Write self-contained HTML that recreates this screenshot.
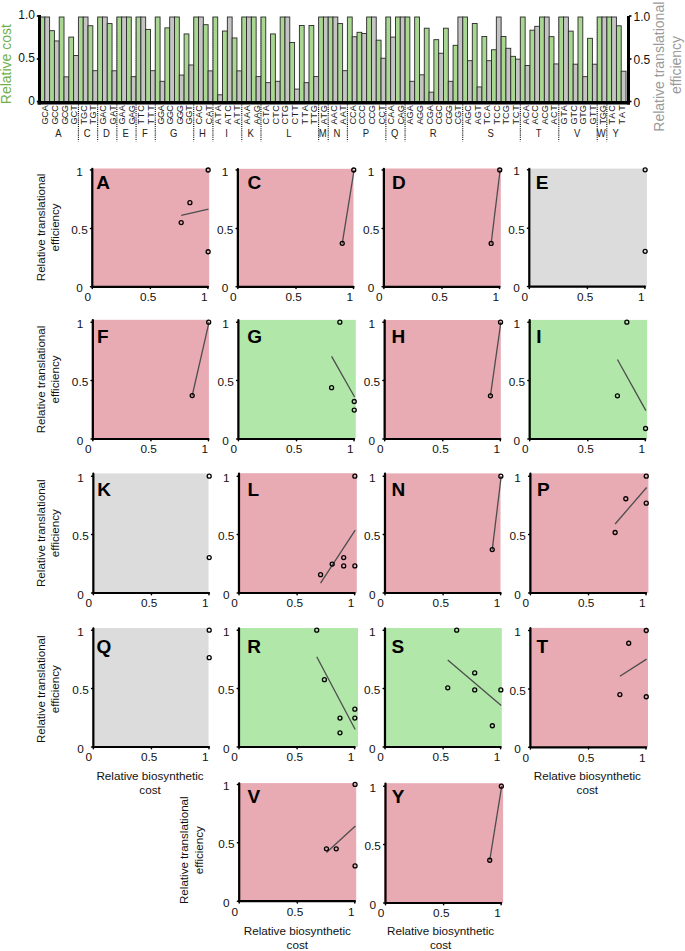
<!DOCTYPE html>
<html><head><meta charset="utf-8"><style>
html,body{margin:0;padding:0;background:#fff;}
body{width:685px;height:951px;overflow:hidden;font-family:"Liberation Sans",sans-serif;}
svg{display:block;}
</style></head><body>
<svg width="685" height="951" viewBox="0 0 685 951">
<rect x="40.00" y="17.00" width="4.80" height="85.50" fill="#a9d690" stroke="#2a2a2a" stroke-width="0.9"/>
<rect x="44.80" y="17.00" width="4.80" height="85.50" fill="#c4c4c4" stroke="#2a2a2a" stroke-width="0.9"/>
<rect x="49.61" y="30.68" width="4.80" height="71.82" fill="#a9d690" stroke="#2a2a2a" stroke-width="0.9"/>
<rect x="54.41" y="40.94" width="4.80" height="61.56" fill="#c4c4c4" stroke="#2a2a2a" stroke-width="0.9"/>
<rect x="59.21" y="17.00" width="4.80" height="85.50" fill="#a9d690" stroke="#2a2a2a" stroke-width="0.9"/>
<rect x="64.02" y="76.85" width="4.80" height="25.65" fill="#c4c4c4" stroke="#2a2a2a" stroke-width="0.9"/>
<rect x="68.82" y="37.09" width="4.80" height="65.41" fill="#a9d690" stroke="#2a2a2a" stroke-width="0.9"/>
<rect x="73.62" y="55.47" width="4.80" height="47.03" fill="#c4c4c4" stroke="#2a2a2a" stroke-width="0.9"/>
<rect x="78.43" y="17.00" width="4.80" height="85.50" fill="#a9d690" stroke="#2a2a2a" stroke-width="0.9"/>
<rect x="83.23" y="17.00" width="4.80" height="85.50" fill="#c4c4c4" stroke="#2a2a2a" stroke-width="0.9"/>
<rect x="88.03" y="25.72" width="4.80" height="76.78" fill="#a9d690" stroke="#2a2a2a" stroke-width="0.9"/>
<rect x="92.84" y="70.69" width="4.80" height="31.81" fill="#c4c4c4" stroke="#2a2a2a" stroke-width="0.9"/>
<rect x="97.64" y="17.00" width="4.80" height="85.50" fill="#a9d690" stroke="#2a2a2a" stroke-width="0.9"/>
<rect x="102.45" y="17.00" width="4.80" height="85.50" fill="#c4c4c4" stroke="#2a2a2a" stroke-width="0.9"/>
<rect x="107.25" y="23.58" width="4.80" height="78.92" fill="#a9d690" stroke="#2a2a2a" stroke-width="0.9"/>
<rect x="112.05" y="70.78" width="4.80" height="31.72" fill="#c4c4c4" stroke="#2a2a2a" stroke-width="0.9"/>
<rect x="116.86" y="17.00" width="4.80" height="85.50" fill="#a9d690" stroke="#2a2a2a" stroke-width="0.9"/>
<rect x="121.66" y="17.00" width="4.80" height="85.50" fill="#c4c4c4" stroke="#2a2a2a" stroke-width="0.9"/>
<rect x="126.46" y="17.00" width="4.80" height="85.50" fill="#a9d690" stroke="#2a2a2a" stroke-width="0.9"/>
<rect x="131.27" y="76.68" width="4.80" height="25.82" fill="#c4c4c4" stroke="#2a2a2a" stroke-width="0.9"/>
<rect x="136.07" y="17.00" width="4.80" height="85.50" fill="#a9d690" stroke="#2a2a2a" stroke-width="0.9"/>
<rect x="140.87" y="17.00" width="4.80" height="85.50" fill="#c4c4c4" stroke="#2a2a2a" stroke-width="0.9"/>
<rect x="145.68" y="29.40" width="4.80" height="73.10" fill="#a9d690" stroke="#2a2a2a" stroke-width="0.9"/>
<rect x="150.48" y="70.69" width="4.80" height="31.81" fill="#c4c4c4" stroke="#2a2a2a" stroke-width="0.9"/>
<rect x="155.28" y="17.00" width="4.80" height="85.50" fill="#a9d690" stroke="#2a2a2a" stroke-width="0.9"/>
<rect x="160.09" y="81.30" width="4.80" height="21.20" fill="#c4c4c4" stroke="#2a2a2a" stroke-width="0.9"/>
<rect x="164.89" y="27.86" width="4.80" height="74.64" fill="#a9d690" stroke="#2a2a2a" stroke-width="0.9"/>
<rect x="169.69" y="17.00" width="4.80" height="85.50" fill="#c4c4c4" stroke="#2a2a2a" stroke-width="0.9"/>
<rect x="174.50" y="17.00" width="4.80" height="85.50" fill="#a9d690" stroke="#2a2a2a" stroke-width="0.9"/>
<rect x="179.30" y="75.05" width="4.80" height="27.45" fill="#c4c4c4" stroke="#2a2a2a" stroke-width="0.9"/>
<rect x="184.10" y="33.93" width="4.80" height="68.57" fill="#a9d690" stroke="#2a2a2a" stroke-width="0.9"/>
<rect x="188.91" y="64.97" width="4.80" height="37.53" fill="#c4c4c4" stroke="#2a2a2a" stroke-width="0.9"/>
<rect x="193.71" y="17.00" width="4.80" height="85.50" fill="#a9d690" stroke="#2a2a2a" stroke-width="0.9"/>
<rect x="198.52" y="17.00" width="4.80" height="85.50" fill="#c4c4c4" stroke="#2a2a2a" stroke-width="0.9"/>
<rect x="203.32" y="24.69" width="4.80" height="77.81" fill="#a9d690" stroke="#2a2a2a" stroke-width="0.9"/>
<rect x="208.12" y="70.87" width="4.80" height="31.63" fill="#c4c4c4" stroke="#2a2a2a" stroke-width="0.9"/>
<rect x="212.93" y="17.00" width="4.80" height="85.50" fill="#a9d690" stroke="#2a2a2a" stroke-width="0.9"/>
<rect x="217.73" y="94.81" width="4.80" height="7.69" fill="#c4c4c4" stroke="#2a2a2a" stroke-width="0.9"/>
<rect x="222.53" y="31.02" width="4.80" height="71.48" fill="#a9d690" stroke="#2a2a2a" stroke-width="0.9"/>
<rect x="227.34" y="17.00" width="4.80" height="85.50" fill="#c4c4c4" stroke="#2a2a2a" stroke-width="0.9"/>
<rect x="232.14" y="37.95" width="4.80" height="64.55" fill="#a9d690" stroke="#2a2a2a" stroke-width="0.9"/>
<rect x="236.94" y="70.87" width="4.80" height="31.63" fill="#c4c4c4" stroke="#2a2a2a" stroke-width="0.9"/>
<rect x="241.75" y="17.00" width="4.80" height="85.50" fill="#a9d690" stroke="#2a2a2a" stroke-width="0.9"/>
<rect x="246.55" y="17.00" width="4.80" height="85.50" fill="#c4c4c4" stroke="#2a2a2a" stroke-width="0.9"/>
<rect x="251.35" y="17.00" width="4.80" height="85.50" fill="#a9d690" stroke="#2a2a2a" stroke-width="0.9"/>
<rect x="256.16" y="76.59" width="4.80" height="25.91" fill="#c4c4c4" stroke="#2a2a2a" stroke-width="0.9"/>
<rect x="260.96" y="17.00" width="4.80" height="85.50" fill="#a9d690" stroke="#2a2a2a" stroke-width="0.9"/>
<rect x="265.76" y="82.66" width="4.80" height="19.84" fill="#c4c4c4" stroke="#2a2a2a" stroke-width="0.9"/>
<rect x="270.57" y="33.93" width="4.80" height="68.57" fill="#a9d690" stroke="#2a2a2a" stroke-width="0.9"/>
<rect x="275.37" y="81.30" width="4.80" height="21.20" fill="#c4c4c4" stroke="#2a2a2a" stroke-width="0.9"/>
<rect x="280.17" y="17.00" width="4.80" height="85.50" fill="#a9d690" stroke="#2a2a2a" stroke-width="0.9"/>
<rect x="284.98" y="17.00" width="4.80" height="85.50" fill="#c4c4c4" stroke="#2a2a2a" stroke-width="0.9"/>
<rect x="289.78" y="42.48" width="4.80" height="60.02" fill="#a9d690" stroke="#2a2a2a" stroke-width="0.9"/>
<rect x="294.59" y="89.08" width="4.80" height="13.42" fill="#c4c4c4" stroke="#2a2a2a" stroke-width="0.9"/>
<rect x="299.39" y="25.46" width="4.80" height="77.04" fill="#a9d690" stroke="#2a2a2a" stroke-width="0.9"/>
<rect x="304.19" y="82.66" width="4.80" height="19.84" fill="#c4c4c4" stroke="#2a2a2a" stroke-width="0.9"/>
<rect x="309.00" y="25.46" width="4.80" height="77.04" fill="#a9d690" stroke="#2a2a2a" stroke-width="0.9"/>
<rect x="313.80" y="76.59" width="4.80" height="25.91" fill="#c4c4c4" stroke="#2a2a2a" stroke-width="0.9"/>
<rect x="318.60" y="17.00" width="4.80" height="85.50" fill="#a9d690" stroke="#2a2a2a" stroke-width="0.9"/>
<rect x="323.41" y="17.00" width="4.80" height="85.50" fill="#c4c4c4" stroke="#2a2a2a" stroke-width="0.9"/>
<rect x="328.21" y="17.00" width="4.80" height="85.50" fill="#a9d690" stroke="#2a2a2a" stroke-width="0.9"/>
<rect x="333.01" y="17.00" width="4.80" height="85.50" fill="#c4c4c4" stroke="#2a2a2a" stroke-width="0.9"/>
<rect x="337.82" y="23.58" width="4.80" height="78.92" fill="#a9d690" stroke="#2a2a2a" stroke-width="0.9"/>
<rect x="342.62" y="70.69" width="4.80" height="31.81" fill="#c4c4c4" stroke="#2a2a2a" stroke-width="0.9"/>
<rect x="347.42" y="17.00" width="4.80" height="85.50" fill="#a9d690" stroke="#2a2a2a" stroke-width="0.9"/>
<rect x="352.23" y="36.75" width="4.80" height="65.75" fill="#c4c4c4" stroke="#2a2a2a" stroke-width="0.9"/>
<rect x="357.03" y="32.30" width="4.80" height="70.20" fill="#a9d690" stroke="#2a2a2a" stroke-width="0.9"/>
<rect x="361.83" y="33.50" width="4.80" height="69.00" fill="#c4c4c4" stroke="#2a2a2a" stroke-width="0.9"/>
<rect x="366.64" y="17.00" width="4.80" height="85.50" fill="#a9d690" stroke="#2a2a2a" stroke-width="0.9"/>
<rect x="371.44" y="17.00" width="4.80" height="85.50" fill="#c4c4c4" stroke="#2a2a2a" stroke-width="0.9"/>
<rect x="376.25" y="40.17" width="4.80" height="62.33" fill="#a9d690" stroke="#2a2a2a" stroke-width="0.9"/>
<rect x="381.05" y="58.21" width="4.80" height="44.29" fill="#c4c4c4" stroke="#2a2a2a" stroke-width="0.9"/>
<rect x="385.85" y="17.00" width="4.80" height="85.50" fill="#a9d690" stroke="#2a2a2a" stroke-width="0.9"/>
<rect x="390.66" y="37.09" width="4.80" height="65.41" fill="#c4c4c4" stroke="#2a2a2a" stroke-width="0.9"/>
<rect x="395.46" y="17.00" width="4.80" height="85.50" fill="#a9d690" stroke="#2a2a2a" stroke-width="0.9"/>
<rect x="400.26" y="17.00" width="4.80" height="85.50" fill="#c4c4c4" stroke="#2a2a2a" stroke-width="0.9"/>
<rect x="405.07" y="17.00" width="4.80" height="85.50" fill="#a9d690" stroke="#2a2a2a" stroke-width="0.9"/>
<rect x="409.87" y="81.30" width="4.80" height="21.20" fill="#c4c4c4" stroke="#2a2a2a" stroke-width="0.9"/>
<rect x="414.67" y="17.00" width="4.80" height="85.50" fill="#a9d690" stroke="#2a2a2a" stroke-width="0.9"/>
<rect x="419.48" y="74.80" width="4.80" height="27.70" fill="#c4c4c4" stroke="#2a2a2a" stroke-width="0.9"/>
<rect x="424.28" y="28.20" width="4.80" height="74.30" fill="#a9d690" stroke="#2a2a2a" stroke-width="0.9"/>
<rect x="429.08" y="92.15" width="4.80" height="10.35" fill="#c4c4c4" stroke="#2a2a2a" stroke-width="0.9"/>
<rect x="433.89" y="39.66" width="4.80" height="62.84" fill="#a9d690" stroke="#2a2a2a" stroke-width="0.9"/>
<rect x="438.69" y="53.25" width="4.80" height="49.25" fill="#c4c4c4" stroke="#2a2a2a" stroke-width="0.9"/>
<rect x="443.49" y="28.20" width="4.80" height="74.30" fill="#a9d690" stroke="#2a2a2a" stroke-width="0.9"/>
<rect x="448.30" y="81.30" width="4.80" height="21.20" fill="#c4c4c4" stroke="#2a2a2a" stroke-width="0.9"/>
<rect x="453.10" y="45.30" width="4.80" height="57.20" fill="#a9d690" stroke="#2a2a2a" stroke-width="0.9"/>
<rect x="457.90" y="17.00" width="4.80" height="85.50" fill="#c4c4c4" stroke="#2a2a2a" stroke-width="0.9"/>
<rect x="462.71" y="17.00" width="4.80" height="85.50" fill="#a9d690" stroke="#2a2a2a" stroke-width="0.9"/>
<rect x="467.51" y="60.69" width="4.80" height="41.81" fill="#c4c4c4" stroke="#2a2a2a" stroke-width="0.9"/>
<rect x="472.31" y="23.50" width="4.80" height="79.00" fill="#a9d690" stroke="#2a2a2a" stroke-width="0.9"/>
<rect x="477.12" y="86.94" width="4.80" height="15.56" fill="#c4c4c4" stroke="#2a2a2a" stroke-width="0.9"/>
<rect x="481.92" y="36.49" width="4.80" height="66.01" fill="#a9d690" stroke="#2a2a2a" stroke-width="0.9"/>
<rect x="486.73" y="60.69" width="4.80" height="41.81" fill="#c4c4c4" stroke="#2a2a2a" stroke-width="0.9"/>
<rect x="491.53" y="49.75" width="4.80" height="52.75" fill="#a9d690" stroke="#2a2a2a" stroke-width="0.9"/>
<rect x="496.33" y="17.00" width="4.80" height="85.50" fill="#c4c4c4" stroke="#2a2a2a" stroke-width="0.9"/>
<rect x="501.14" y="36.49" width="4.80" height="66.01" fill="#a9d690" stroke="#2a2a2a" stroke-width="0.9"/>
<rect x="505.94" y="48.29" width="4.80" height="54.21" fill="#c4c4c4" stroke="#2a2a2a" stroke-width="0.9"/>
<rect x="510.74" y="56.33" width="4.80" height="46.17" fill="#a9d690" stroke="#2a2a2a" stroke-width="0.9"/>
<rect x="515.55" y="59.15" width="4.80" height="43.35" fill="#c4c4c4" stroke="#2a2a2a" stroke-width="0.9"/>
<rect x="520.35" y="17.00" width="4.80" height="85.50" fill="#a9d690" stroke="#2a2a2a" stroke-width="0.9"/>
<rect x="525.15" y="65.48" width="4.80" height="37.02" fill="#c4c4c4" stroke="#2a2a2a" stroke-width="0.9"/>
<rect x="529.96" y="30.17" width="4.80" height="72.33" fill="#a9d690" stroke="#2a2a2a" stroke-width="0.9"/>
<rect x="534.76" y="26.32" width="4.80" height="76.18" fill="#c4c4c4" stroke="#2a2a2a" stroke-width="0.9"/>
<rect x="539.56" y="17.00" width="4.80" height="85.50" fill="#a9d690" stroke="#2a2a2a" stroke-width="0.9"/>
<rect x="544.37" y="17.00" width="4.80" height="85.50" fill="#c4c4c4" stroke="#2a2a2a" stroke-width="0.9"/>
<rect x="549.17" y="36.66" width="4.80" height="65.84" fill="#a9d690" stroke="#2a2a2a" stroke-width="0.9"/>
<rect x="553.97" y="63.94" width="4.80" height="38.56" fill="#c4c4c4" stroke="#2a2a2a" stroke-width="0.9"/>
<rect x="558.78" y="17.00" width="4.80" height="85.50" fill="#a9d690" stroke="#2a2a2a" stroke-width="0.9"/>
<rect x="563.58" y="17.00" width="4.80" height="85.50" fill="#c4c4c4" stroke="#2a2a2a" stroke-width="0.9"/>
<rect x="568.38" y="31.11" width="4.80" height="71.39" fill="#a9d690" stroke="#2a2a2a" stroke-width="0.9"/>
<rect x="573.19" y="64.20" width="4.80" height="38.30" fill="#c4c4c4" stroke="#2a2a2a" stroke-width="0.9"/>
<rect x="577.99" y="17.00" width="4.80" height="85.50" fill="#a9d690" stroke="#2a2a2a" stroke-width="0.9"/>
<rect x="582.80" y="76.68" width="4.80" height="25.82" fill="#c4c4c4" stroke="#2a2a2a" stroke-width="0.9"/>
<rect x="587.60" y="38.29" width="4.80" height="64.21" fill="#a9d690" stroke="#2a2a2a" stroke-width="0.9"/>
<rect x="592.40" y="64.20" width="4.80" height="38.30" fill="#c4c4c4" stroke="#2a2a2a" stroke-width="0.9"/>
<rect x="597.21" y="17.00" width="4.80" height="85.50" fill="#a9d690" stroke="#2a2a2a" stroke-width="0.9"/>
<rect x="602.01" y="17.00" width="4.80" height="85.50" fill="#c4c4c4" stroke="#2a2a2a" stroke-width="0.9"/>
<rect x="606.81" y="17.00" width="4.80" height="85.50" fill="#a9d690" stroke="#2a2a2a" stroke-width="0.9"/>
<rect x="611.62" y="17.00" width="4.80" height="85.50" fill="#c4c4c4" stroke="#2a2a2a" stroke-width="0.9"/>
<rect x="616.42" y="25.81" width="4.80" height="76.69" fill="#a9d690" stroke="#2a2a2a" stroke-width="0.9"/>
<rect x="621.22" y="71.21" width="4.80" height="31.29" fill="#c4c4c4" stroke="#2a2a2a" stroke-width="0.9"/>
<line x1="78.43" y1="17" x2="78.43" y2="101" stroke="#555" stroke-width="0.9" stroke-dasharray="1.1,1.05"/>
<line x1="78.43" y1="104.5" x2="78.43" y2="141.2" stroke="#111" stroke-width="1.15" stroke-dasharray="1.1,1.05"/>
<line x1="97.64" y1="17" x2="97.64" y2="101" stroke="#555" stroke-width="0.9" stroke-dasharray="1.1,1.05"/>
<line x1="97.64" y1="104.5" x2="97.64" y2="141.2" stroke="#111" stroke-width="1.15" stroke-dasharray="1.1,1.05"/>
<line x1="116.86" y1="17" x2="116.86" y2="101" stroke="#555" stroke-width="0.9" stroke-dasharray="1.1,1.05"/>
<line x1="116.86" y1="104.5" x2="116.86" y2="141.2" stroke="#111" stroke-width="1.15" stroke-dasharray="1.1,1.05"/>
<line x1="136.07" y1="17" x2="136.07" y2="101" stroke="#555" stroke-width="0.9" stroke-dasharray="1.1,1.05"/>
<line x1="136.07" y1="104.5" x2="136.07" y2="141.2" stroke="#111" stroke-width="1.15" stroke-dasharray="1.1,1.05"/>
<line x1="155.28" y1="17" x2="155.28" y2="101" stroke="#555" stroke-width="0.9" stroke-dasharray="1.1,1.05"/>
<line x1="155.28" y1="104.5" x2="155.28" y2="141.2" stroke="#111" stroke-width="1.15" stroke-dasharray="1.1,1.05"/>
<line x1="193.71" y1="17" x2="193.71" y2="101" stroke="#555" stroke-width="0.9" stroke-dasharray="1.1,1.05"/>
<line x1="193.71" y1="104.5" x2="193.71" y2="141.2" stroke="#111" stroke-width="1.15" stroke-dasharray="1.1,1.05"/>
<line x1="212.93" y1="17" x2="212.93" y2="101" stroke="#555" stroke-width="0.9" stroke-dasharray="1.1,1.05"/>
<line x1="212.93" y1="104.5" x2="212.93" y2="141.2" stroke="#111" stroke-width="1.15" stroke-dasharray="1.1,1.05"/>
<line x1="241.75" y1="17" x2="241.75" y2="101" stroke="#555" stroke-width="0.9" stroke-dasharray="1.1,1.05"/>
<line x1="241.75" y1="104.5" x2="241.75" y2="141.2" stroke="#111" stroke-width="1.15" stroke-dasharray="1.1,1.05"/>
<line x1="260.96" y1="17" x2="260.96" y2="101" stroke="#555" stroke-width="0.9" stroke-dasharray="1.1,1.05"/>
<line x1="260.96" y1="104.5" x2="260.96" y2="141.2" stroke="#111" stroke-width="1.15" stroke-dasharray="1.1,1.05"/>
<line x1="318.60" y1="17" x2="318.60" y2="101" stroke="#555" stroke-width="0.9" stroke-dasharray="1.1,1.05"/>
<line x1="318.60" y1="104.5" x2="318.60" y2="141.2" stroke="#111" stroke-width="1.15" stroke-dasharray="1.1,1.05"/>
<line x1="328.21" y1="17" x2="328.21" y2="101" stroke="#555" stroke-width="0.9" stroke-dasharray="1.1,1.05"/>
<line x1="328.21" y1="104.5" x2="328.21" y2="141.2" stroke="#111" stroke-width="1.15" stroke-dasharray="1.1,1.05"/>
<line x1="347.42" y1="17" x2="347.42" y2="101" stroke="#555" stroke-width="0.9" stroke-dasharray="1.1,1.05"/>
<line x1="347.42" y1="104.5" x2="347.42" y2="141.2" stroke="#111" stroke-width="1.15" stroke-dasharray="1.1,1.05"/>
<line x1="385.85" y1="17" x2="385.85" y2="101" stroke="#555" stroke-width="0.9" stroke-dasharray="1.1,1.05"/>
<line x1="385.85" y1="104.5" x2="385.85" y2="141.2" stroke="#111" stroke-width="1.15" stroke-dasharray="1.1,1.05"/>
<line x1="405.07" y1="17" x2="405.07" y2="101" stroke="#555" stroke-width="0.9" stroke-dasharray="1.1,1.05"/>
<line x1="405.07" y1="104.5" x2="405.07" y2="141.2" stroke="#111" stroke-width="1.15" stroke-dasharray="1.1,1.05"/>
<line x1="462.71" y1="17" x2="462.71" y2="101" stroke="#555" stroke-width="0.9" stroke-dasharray="1.1,1.05"/>
<line x1="462.71" y1="104.5" x2="462.71" y2="141.2" stroke="#111" stroke-width="1.15" stroke-dasharray="1.1,1.05"/>
<line x1="520.35" y1="17" x2="520.35" y2="101" stroke="#555" stroke-width="0.9" stroke-dasharray="1.1,1.05"/>
<line x1="520.35" y1="104.5" x2="520.35" y2="141.2" stroke="#111" stroke-width="1.15" stroke-dasharray="1.1,1.05"/>
<line x1="558.78" y1="17" x2="558.78" y2="101" stroke="#555" stroke-width="0.9" stroke-dasharray="1.1,1.05"/>
<line x1="558.78" y1="104.5" x2="558.78" y2="141.2" stroke="#111" stroke-width="1.15" stroke-dasharray="1.1,1.05"/>
<line x1="597.21" y1="17" x2="597.21" y2="101" stroke="#555" stroke-width="0.9" stroke-dasharray="1.1,1.05"/>
<line x1="597.21" y1="104.5" x2="597.21" y2="141.2" stroke="#111" stroke-width="1.15" stroke-dasharray="1.1,1.05"/>
<line x1="606.81" y1="17" x2="606.81" y2="101" stroke="#555" stroke-width="0.9" stroke-dasharray="1.1,1.05"/>
<line x1="606.81" y1="104.5" x2="606.81" y2="141.2" stroke="#111" stroke-width="1.15" stroke-dasharray="1.1,1.05"/>
<rect x="38" y="15" width="3" height="89.5" fill="#000"/>
<rect x="37.5" y="101" width="592.5" height="3.5" fill="#000"/>
<rect x="627" y="16" width="3" height="88.5" fill="#000"/>
<rect x="36.8" y="15.2" width="2" height="1.6" fill="#000"/>
<rect x="629" y="15.2" width="2.5" height="1.6" fill="#000"/>
<rect x="36.8" y="58.2" width="2" height="1.6" fill="#000"/>
<rect x="629" y="58.2" width="2.5" height="1.6" fill="#000"/>
<rect x="36.8" y="100.7" width="2" height="1.6" fill="#000"/>
<rect x="629" y="100.7" width="2.5" height="1.6" fill="#000"/>
<text x="35" y="19.4" font-size="12" text-anchor="end" font-family="Liberation Sans, sans-serif" fill="#111">1.0</text>
<text x="35" y="62.4" font-size="12" text-anchor="end" font-family="Liberation Sans, sans-serif" fill="#111">0.5</text>
<text x="35" y="105.2" font-size="12" text-anchor="end" font-family="Liberation Sans, sans-serif" fill="#111">0</text>
<text x="633.5" y="21.2" font-size="12" font-family="Liberation Sans, sans-serif" fill="#111">1.0</text>
<text x="633.5" y="63.8" font-size="12" font-family="Liberation Sans, sans-serif" fill="#111">0.5</text>
<text x="633.5" y="106.5" font-size="12" font-family="Liberation Sans, sans-serif" fill="#111">0</text>
<text transform="translate(11.3,64.1) rotate(-90)" font-size="14" text-anchor="middle" font-family="Liberation Sans, sans-serif" fill="#72b04c">Relative cost</text>
<text transform="translate(664,66.7) rotate(-90)" font-size="14" text-anchor="middle" font-family="Liberation Sans, sans-serif" fill="#9a9a9a">Relative translational</text>
<text transform="translate(681.4,65) rotate(-90)" font-size="14" text-anchor="middle" font-family="Liberation Sans, sans-serif" fill="#9a9a9a">efficiency</text>
<text transform="translate(48.30,114.9) rotate(-90)" font-size="9.2" text-anchor="middle" textLength="19.4" lengthAdjust="spacing" font-family="Liberation Sans, sans-serif" fill="#222">GCA</text>
<text transform="translate(57.91,114.9) rotate(-90)" font-size="9.2" text-anchor="middle" textLength="19.4" lengthAdjust="spacing" font-family="Liberation Sans, sans-serif" fill="#222">GCC</text>
<text transform="translate(67.52,114.9) rotate(-90)" font-size="9.2" text-anchor="middle" textLength="19.4" lengthAdjust="spacing" font-family="Liberation Sans, sans-serif" fill="#222">GCG</text>
<text transform="translate(77.12,114.9) rotate(-90)" font-size="9.2" text-anchor="middle" textLength="19.4" lengthAdjust="spacing" font-family="Liberation Sans, sans-serif" fill="#222">GCT</text>
<text transform="translate(86.73,114.9) rotate(-90)" font-size="9.2" text-anchor="middle" textLength="19.4" lengthAdjust="spacing" font-family="Liberation Sans, sans-serif" fill="#222">TGC</text>
<text transform="translate(96.34,114.9) rotate(-90)" font-size="9.2" text-anchor="middle" textLength="19.4" lengthAdjust="spacing" font-family="Liberation Sans, sans-serif" fill="#222">TGT</text>
<text transform="translate(105.95,114.9) rotate(-90)" font-size="9.2" text-anchor="middle" textLength="19.4" lengthAdjust="spacing" font-family="Liberation Sans, sans-serif" fill="#222">GAC</text>
<text transform="translate(115.55,114.9) rotate(-90)" font-size="9.2" text-anchor="middle" textLength="19.4" lengthAdjust="spacing" font-family="Liberation Sans, sans-serif" fill="#222">GAT</text>
<text transform="translate(125.16,114.9) rotate(-90)" font-size="9.2" text-anchor="middle" textLength="19.4" lengthAdjust="spacing" font-family="Liberation Sans, sans-serif" fill="#222">GAA</text>
<text transform="translate(134.77,114.9) rotate(-90)" font-size="9.2" text-anchor="middle" textLength="19.4" lengthAdjust="spacing" font-family="Liberation Sans, sans-serif" fill="#222">GAG</text>
<text transform="translate(144.37,114.9) rotate(-90)" font-size="9.2" text-anchor="middle" textLength="19.4" lengthAdjust="spacing" font-family="Liberation Sans, sans-serif" fill="#222">TTC</text>
<text transform="translate(153.98,114.9) rotate(-90)" font-size="9.2" text-anchor="middle" textLength="19.4" lengthAdjust="spacing" font-family="Liberation Sans, sans-serif" fill="#222">TTT</text>
<text transform="translate(163.59,114.9) rotate(-90)" font-size="9.2" text-anchor="middle" textLength="19.4" lengthAdjust="spacing" font-family="Liberation Sans, sans-serif" fill="#222">GGA</text>
<text transform="translate(173.19,114.9) rotate(-90)" font-size="9.2" text-anchor="middle" textLength="19.4" lengthAdjust="spacing" font-family="Liberation Sans, sans-serif" fill="#222">GGC</text>
<text transform="translate(182.80,114.9) rotate(-90)" font-size="9.2" text-anchor="middle" textLength="19.4" lengthAdjust="spacing" font-family="Liberation Sans, sans-serif" fill="#222">GGG</text>
<text transform="translate(192.41,114.9) rotate(-90)" font-size="9.2" text-anchor="middle" textLength="19.4" lengthAdjust="spacing" font-family="Liberation Sans, sans-serif" fill="#222">GGT</text>
<text transform="translate(202.02,114.9) rotate(-90)" font-size="9.2" text-anchor="middle" textLength="19.4" lengthAdjust="spacing" font-family="Liberation Sans, sans-serif" fill="#222">CAC</text>
<text transform="translate(211.62,114.9) rotate(-90)" font-size="9.2" text-anchor="middle" textLength="19.4" lengthAdjust="spacing" font-family="Liberation Sans, sans-serif" fill="#222">CAT</text>
<text transform="translate(221.23,114.9) rotate(-90)" font-size="9.2" text-anchor="middle" textLength="19.4" lengthAdjust="spacing" font-family="Liberation Sans, sans-serif" fill="#222">ATA</text>
<text transform="translate(230.84,114.9) rotate(-90)" font-size="9.2" text-anchor="middle" textLength="19.4" lengthAdjust="spacing" font-family="Liberation Sans, sans-serif" fill="#222">ATC</text>
<text transform="translate(240.44,114.9) rotate(-90)" font-size="9.2" text-anchor="middle" textLength="19.4" lengthAdjust="spacing" font-family="Liberation Sans, sans-serif" fill="#222">ATT</text>
<text transform="translate(250.05,114.9) rotate(-90)" font-size="9.2" text-anchor="middle" textLength="19.4" lengthAdjust="spacing" font-family="Liberation Sans, sans-serif" fill="#222">AAA</text>
<text transform="translate(259.66,114.9) rotate(-90)" font-size="9.2" text-anchor="middle" textLength="19.4" lengthAdjust="spacing" font-family="Liberation Sans, sans-serif" fill="#222">AAG</text>
<text transform="translate(269.26,114.9) rotate(-90)" font-size="9.2" text-anchor="middle" textLength="19.4" lengthAdjust="spacing" font-family="Liberation Sans, sans-serif" fill="#222">CTA</text>
<text transform="translate(278.87,114.9) rotate(-90)" font-size="9.2" text-anchor="middle" textLength="19.4" lengthAdjust="spacing" font-family="Liberation Sans, sans-serif" fill="#222">CTC</text>
<text transform="translate(288.48,114.9) rotate(-90)" font-size="9.2" text-anchor="middle" textLength="19.4" lengthAdjust="spacing" font-family="Liberation Sans, sans-serif" fill="#222">CTG</text>
<text transform="translate(298.09,114.9) rotate(-90)" font-size="9.2" text-anchor="middle" textLength="19.4" lengthAdjust="spacing" font-family="Liberation Sans, sans-serif" fill="#222">CTT</text>
<text transform="translate(307.69,114.9) rotate(-90)" font-size="9.2" text-anchor="middle" textLength="19.4" lengthAdjust="spacing" font-family="Liberation Sans, sans-serif" fill="#222">TTA</text>
<text transform="translate(317.30,114.9) rotate(-90)" font-size="9.2" text-anchor="middle" textLength="19.4" lengthAdjust="spacing" font-family="Liberation Sans, sans-serif" fill="#222">TTG</text>
<text transform="translate(326.91,114.9) rotate(-90)" font-size="9.2" text-anchor="middle" textLength="19.4" lengthAdjust="spacing" font-family="Liberation Sans, sans-serif" fill="#222">ATG</text>
<text transform="translate(336.51,114.9) rotate(-90)" font-size="9.2" text-anchor="middle" textLength="19.4" lengthAdjust="spacing" font-family="Liberation Sans, sans-serif" fill="#222">AAC</text>
<text transform="translate(346.12,114.9) rotate(-90)" font-size="9.2" text-anchor="middle" textLength="19.4" lengthAdjust="spacing" font-family="Liberation Sans, sans-serif" fill="#222">AAT</text>
<text transform="translate(355.73,114.9) rotate(-90)" font-size="9.2" text-anchor="middle" textLength="19.4" lengthAdjust="spacing" font-family="Liberation Sans, sans-serif" fill="#222">CCA</text>
<text transform="translate(365.33,114.9) rotate(-90)" font-size="9.2" text-anchor="middle" textLength="19.4" lengthAdjust="spacing" font-family="Liberation Sans, sans-serif" fill="#222">CCC</text>
<text transform="translate(374.94,114.9) rotate(-90)" font-size="9.2" text-anchor="middle" textLength="19.4" lengthAdjust="spacing" font-family="Liberation Sans, sans-serif" fill="#222">CCG</text>
<text transform="translate(384.55,114.9) rotate(-90)" font-size="9.2" text-anchor="middle" textLength="19.4" lengthAdjust="spacing" font-family="Liberation Sans, sans-serif" fill="#222">CCT</text>
<text transform="translate(394.16,114.9) rotate(-90)" font-size="9.2" text-anchor="middle" textLength="19.4" lengthAdjust="spacing" font-family="Liberation Sans, sans-serif" fill="#222">CAA</text>
<text transform="translate(403.76,114.9) rotate(-90)" font-size="9.2" text-anchor="middle" textLength="19.4" lengthAdjust="spacing" font-family="Liberation Sans, sans-serif" fill="#222">CAG</text>
<text transform="translate(413.37,114.9) rotate(-90)" font-size="9.2" text-anchor="middle" textLength="19.4" lengthAdjust="spacing" font-family="Liberation Sans, sans-serif" fill="#222">AGA</text>
<text transform="translate(422.98,114.9) rotate(-90)" font-size="9.2" text-anchor="middle" textLength="19.4" lengthAdjust="spacing" font-family="Liberation Sans, sans-serif" fill="#222">AGG</text>
<text transform="translate(432.58,114.9) rotate(-90)" font-size="9.2" text-anchor="middle" textLength="19.4" lengthAdjust="spacing" font-family="Liberation Sans, sans-serif" fill="#222">CGA</text>
<text transform="translate(442.19,114.9) rotate(-90)" font-size="9.2" text-anchor="middle" textLength="19.4" lengthAdjust="spacing" font-family="Liberation Sans, sans-serif" fill="#222">CGC</text>
<text transform="translate(451.80,114.9) rotate(-90)" font-size="9.2" text-anchor="middle" textLength="19.4" lengthAdjust="spacing" font-family="Liberation Sans, sans-serif" fill="#222">CGG</text>
<text transform="translate(461.40,114.9) rotate(-90)" font-size="9.2" text-anchor="middle" textLength="19.4" lengthAdjust="spacing" font-family="Liberation Sans, sans-serif" fill="#222">CGT</text>
<text transform="translate(471.01,114.9) rotate(-90)" font-size="9.2" text-anchor="middle" textLength="19.4" lengthAdjust="spacing" font-family="Liberation Sans, sans-serif" fill="#222">AGC</text>
<text transform="translate(480.62,114.9) rotate(-90)" font-size="9.2" text-anchor="middle" textLength="19.4" lengthAdjust="spacing" font-family="Liberation Sans, sans-serif" fill="#222">AGT</text>
<text transform="translate(490.23,114.9) rotate(-90)" font-size="9.2" text-anchor="middle" textLength="19.4" lengthAdjust="spacing" font-family="Liberation Sans, sans-serif" fill="#222">TCA</text>
<text transform="translate(499.83,114.9) rotate(-90)" font-size="9.2" text-anchor="middle" textLength="19.4" lengthAdjust="spacing" font-family="Liberation Sans, sans-serif" fill="#222">TCC</text>
<text transform="translate(509.44,114.9) rotate(-90)" font-size="9.2" text-anchor="middle" textLength="19.4" lengthAdjust="spacing" font-family="Liberation Sans, sans-serif" fill="#222">TCG</text>
<text transform="translate(519.05,114.9) rotate(-90)" font-size="9.2" text-anchor="middle" textLength="19.4" lengthAdjust="spacing" font-family="Liberation Sans, sans-serif" fill="#222">TCT</text>
<text transform="translate(528.65,114.9) rotate(-90)" font-size="9.2" text-anchor="middle" textLength="19.4" lengthAdjust="spacing" font-family="Liberation Sans, sans-serif" fill="#222">ACA</text>
<text transform="translate(538.26,114.9) rotate(-90)" font-size="9.2" text-anchor="middle" textLength="19.4" lengthAdjust="spacing" font-family="Liberation Sans, sans-serif" fill="#222">ACC</text>
<text transform="translate(547.87,114.9) rotate(-90)" font-size="9.2" text-anchor="middle" textLength="19.4" lengthAdjust="spacing" font-family="Liberation Sans, sans-serif" fill="#222">ACG</text>
<text transform="translate(557.47,114.9) rotate(-90)" font-size="9.2" text-anchor="middle" textLength="19.4" lengthAdjust="spacing" font-family="Liberation Sans, sans-serif" fill="#222">ACT</text>
<text transform="translate(567.08,114.9) rotate(-90)" font-size="9.2" text-anchor="middle" textLength="19.4" lengthAdjust="spacing" font-family="Liberation Sans, sans-serif" fill="#222">GTA</text>
<text transform="translate(576.69,114.9) rotate(-90)" font-size="9.2" text-anchor="middle" textLength="19.4" lengthAdjust="spacing" font-family="Liberation Sans, sans-serif" fill="#222">GTC</text>
<text transform="translate(586.30,114.9) rotate(-90)" font-size="9.2" text-anchor="middle" textLength="19.4" lengthAdjust="spacing" font-family="Liberation Sans, sans-serif" fill="#222">GTG</text>
<text transform="translate(595.90,114.9) rotate(-90)" font-size="9.2" text-anchor="middle" textLength="19.4" lengthAdjust="spacing" font-family="Liberation Sans, sans-serif" fill="#222">GTT</text>
<text transform="translate(605.51,114.9) rotate(-90)" font-size="9.2" text-anchor="middle" textLength="19.4" lengthAdjust="spacing" font-family="Liberation Sans, sans-serif" fill="#222">TGG</text>
<text transform="translate(615.12,114.9) rotate(-90)" font-size="9.2" text-anchor="middle" textLength="19.4" lengthAdjust="spacing" font-family="Liberation Sans, sans-serif" fill="#222">TAC</text>
<text transform="translate(624.72,114.9) rotate(-90)" font-size="9.2" text-anchor="middle" textLength="19.4" lengthAdjust="spacing" font-family="Liberation Sans, sans-serif" fill="#222">TAT</text>
<text transform="translate(58.41,136.8) scale(1,1.18)" font-size="9.5" text-anchor="middle" font-family="Liberation Sans, sans-serif" fill="#222">A</text>
<text transform="translate(87.23,136.8) scale(1,1.18)" font-size="9.5" text-anchor="middle" font-family="Liberation Sans, sans-serif" fill="#222">C</text>
<text transform="translate(106.45,136.8) scale(1,1.18)" font-size="9.5" text-anchor="middle" font-family="Liberation Sans, sans-serif" fill="#222">D</text>
<text transform="translate(125.66,136.8) scale(1,1.18)" font-size="9.5" text-anchor="middle" font-family="Liberation Sans, sans-serif" fill="#222">E</text>
<text transform="translate(144.88,136.8) scale(1,1.18)" font-size="9.5" text-anchor="middle" font-family="Liberation Sans, sans-serif" fill="#222">F</text>
<text transform="translate(173.70,136.8) scale(1,1.18)" font-size="9.5" text-anchor="middle" font-family="Liberation Sans, sans-serif" fill="#222">G</text>
<text transform="translate(202.52,136.8) scale(1,1.18)" font-size="9.5" text-anchor="middle" font-family="Liberation Sans, sans-serif" fill="#222">H</text>
<text transform="translate(226.54,136.8) scale(1,1.18)" font-size="9.5" text-anchor="middle" font-family="Liberation Sans, sans-serif" fill="#222">I</text>
<text transform="translate(250.55,136.8) scale(1,1.18)" font-size="9.5" text-anchor="middle" font-family="Liberation Sans, sans-serif" fill="#222">K</text>
<text transform="translate(288.98,136.8) scale(1,1.18)" font-size="9.5" text-anchor="middle" font-family="Liberation Sans, sans-serif" fill="#222">L</text>
<text transform="translate(322.61,136.8) scale(1,1.18)" font-size="9.5" text-anchor="middle" font-family="Liberation Sans, sans-serif" fill="#222">M</text>
<text transform="translate(337.02,136.8) scale(1,1.18)" font-size="9.5" text-anchor="middle" font-family="Liberation Sans, sans-serif" fill="#222">N</text>
<text transform="translate(365.84,136.8) scale(1,1.18)" font-size="9.5" text-anchor="middle" font-family="Liberation Sans, sans-serif" fill="#222">P</text>
<text transform="translate(394.66,136.8) scale(1,1.18)" font-size="9.5" text-anchor="middle" font-family="Liberation Sans, sans-serif" fill="#222">Q</text>
<text transform="translate(433.09,136.8) scale(1,1.18)" font-size="9.5" text-anchor="middle" font-family="Liberation Sans, sans-serif" fill="#222">R</text>
<text transform="translate(490.73,136.8) scale(1,1.18)" font-size="9.5" text-anchor="middle" font-family="Liberation Sans, sans-serif" fill="#222">S</text>
<text transform="translate(538.76,136.8) scale(1,1.18)" font-size="9.5" text-anchor="middle" font-family="Liberation Sans, sans-serif" fill="#222">T</text>
<text transform="translate(577.19,136.8) scale(1,1.18)" font-size="9.5" text-anchor="middle" font-family="Liberation Sans, sans-serif" fill="#222">V</text>
<text transform="translate(601.21,136.8) scale(1,1.18)" font-size="9.5" text-anchor="middle" font-family="Liberation Sans, sans-serif" fill="#222">W</text>
<text transform="translate(615.62,136.8) scale(1,1.18)" font-size="9.5" text-anchor="middle" font-family="Liberation Sans, sans-serif" fill="#222">Y</text>
<rect x="91.10" y="168.50" width="118.10" height="118.30" fill="#e8aab3"/>
<line x1="181.19" y1="215.31" x2="208.50" y2="209.18" stroke="#4d4d4d" stroke-width="1.3"/>
<circle cx="208.15" cy="170.00" r="2.0" fill="none" stroke="#000" stroke-width="1.3"/>
<circle cx="189.91" cy="202.70" r="2.0" fill="none" stroke="#000" stroke-width="1.3"/>
<circle cx="208.15" cy="251.76" r="2.0" fill="none" stroke="#000" stroke-width="1.3"/>
<circle cx="181.19" cy="222.56" r="2.0" fill="none" stroke="#000" stroke-width="1.3"/>
<path d="M92.30,168.80 L92.30,286.80 L207.90,286.80" fill="none" stroke="#000" stroke-width="2.2" stroke-linejoin="round" stroke-linecap="round"/>
<line x1="90.50" y1="286.80" x2="92.30" y2="286.80" stroke="#000" stroke-width="1.5" stroke-linecap="round"/>
<line x1="92.30" y1="286.80" x2="92.30" y2="288.60" stroke="#000" stroke-width="1.5" stroke-linecap="round"/>
<line x1="90.50" y1="228.40" x2="92.30" y2="228.40" stroke="#000" stroke-width="1.5" stroke-linecap="round"/>
<line x1="150.40" y1="286.80" x2="150.40" y2="288.60" stroke="#000" stroke-width="1.5" stroke-linecap="round"/>
<line x1="90.50" y1="170.00" x2="92.30" y2="170.00" stroke="#000" stroke-width="1.5" stroke-linecap="round"/>
<line x1="207.90" y1="286.80" x2="207.90" y2="288.60" stroke="#000" stroke-width="1.5" stroke-linecap="round"/>
<text x="79.50" y="292.40" font-size="11.8" text-anchor="middle" font-family="Liberation Sans, sans-serif" fill="#111">0</text>
<text x="87.80" y="301.10" font-size="11.8" text-anchor="middle" font-family="Liberation Sans, sans-serif" fill="#111">0</text>
<text x="79.50" y="234.00" font-size="11.8" text-anchor="middle" font-family="Liberation Sans, sans-serif" fill="#111">0.5</text>
<text x="148.10" y="301.10" font-size="11.8" text-anchor="middle" font-family="Liberation Sans, sans-serif" fill="#111">0.5</text>
<text x="79.50" y="175.60" font-size="11.8" text-anchor="middle" font-family="Liberation Sans, sans-serif" fill="#111">1</text>
<text x="204.30" y="301.10" font-size="11.8" text-anchor="middle" font-family="Liberation Sans, sans-serif" fill="#111">1</text>
<text x="103.00" y="188.50" font-size="19" font-weight="bold" text-anchor="middle" font-family="Liberation Sans, sans-serif" fill="#000">A</text>
<text transform="translate(44.50,227.40) rotate(-90)" font-size="11.6" text-anchor="middle" font-family="Liberation Sans, sans-serif" fill="#111">Relative translational</text>
<text transform="translate(59.40,227.40) rotate(-90)" font-size="11.6" text-anchor="middle" font-family="Liberation Sans, sans-serif" fill="#111">efficiency</text>
<rect x="236.70" y="168.80" width="116.80" height="118.00" fill="#e8aab3"/>
<line x1="342.25" y1="243.35" x2="354.10" y2="170.00" stroke="#4d4d4d" stroke-width="1.3"/>
<circle cx="353.75" cy="170.00" r="2.0" fill="none" stroke="#000" stroke-width="1.3"/>
<circle cx="342.25" cy="243.35" r="2.0" fill="none" stroke="#000" stroke-width="1.3"/>
<path d="M237.90,169.10 L237.90,286.80 L353.50,286.80" fill="none" stroke="#000" stroke-width="2.2" stroke-linejoin="round" stroke-linecap="round"/>
<line x1="236.10" y1="286.80" x2="237.90" y2="286.80" stroke="#000" stroke-width="1.5" stroke-linecap="round"/>
<line x1="237.90" y1="286.80" x2="237.90" y2="288.60" stroke="#000" stroke-width="1.5" stroke-linecap="round"/>
<line x1="236.10" y1="228.40" x2="237.90" y2="228.40" stroke="#000" stroke-width="1.5" stroke-linecap="round"/>
<line x1="296.00" y1="286.80" x2="296.00" y2="288.60" stroke="#000" stroke-width="1.5" stroke-linecap="round"/>
<line x1="236.10" y1="170.00" x2="237.90" y2="170.00" stroke="#000" stroke-width="1.5" stroke-linecap="round"/>
<line x1="353.50" y1="286.80" x2="353.50" y2="288.60" stroke="#000" stroke-width="1.5" stroke-linecap="round"/>
<text x="225.10" y="292.40" font-size="11.8" text-anchor="middle" font-family="Liberation Sans, sans-serif" fill="#111">0</text>
<text x="233.40" y="301.10" font-size="11.8" text-anchor="middle" font-family="Liberation Sans, sans-serif" fill="#111">0</text>
<text x="225.10" y="234.00" font-size="11.8" text-anchor="middle" font-family="Liberation Sans, sans-serif" fill="#111">0.5</text>
<text x="293.70" y="301.10" font-size="11.8" text-anchor="middle" font-family="Liberation Sans, sans-serif" fill="#111">0.5</text>
<text x="225.10" y="175.60" font-size="11.8" text-anchor="middle" font-family="Liberation Sans, sans-serif" fill="#111">1</text>
<text x="349.90" y="301.10" font-size="11.8" text-anchor="middle" font-family="Liberation Sans, sans-serif" fill="#111">1</text>
<text x="254.40" y="188.50" font-size="19" font-weight="bold" text-anchor="middle" font-family="Liberation Sans, sans-serif" fill="#000">C</text>
<rect x="382.70" y="168.50" width="118.10" height="118.30" fill="#e8aab3"/>
<line x1="491.15" y1="243.47" x2="500.10" y2="170.00" stroke="#4d4d4d" stroke-width="1.3"/>
<circle cx="499.75" cy="170.00" r="2.0" fill="none" stroke="#000" stroke-width="1.3"/>
<circle cx="491.15" cy="243.47" r="2.0" fill="none" stroke="#000" stroke-width="1.3"/>
<path d="M383.90,168.80 L383.90,286.80 L499.50,286.80" fill="none" stroke="#000" stroke-width="2.2" stroke-linejoin="round" stroke-linecap="round"/>
<line x1="382.10" y1="286.80" x2="383.90" y2="286.80" stroke="#000" stroke-width="1.5" stroke-linecap="round"/>
<line x1="383.90" y1="286.80" x2="383.90" y2="288.60" stroke="#000" stroke-width="1.5" stroke-linecap="round"/>
<line x1="382.10" y1="228.40" x2="383.90" y2="228.40" stroke="#000" stroke-width="1.5" stroke-linecap="round"/>
<line x1="442.00" y1="286.80" x2="442.00" y2="288.60" stroke="#000" stroke-width="1.5" stroke-linecap="round"/>
<line x1="382.10" y1="170.00" x2="383.90" y2="170.00" stroke="#000" stroke-width="1.5" stroke-linecap="round"/>
<line x1="499.50" y1="286.80" x2="499.50" y2="288.60" stroke="#000" stroke-width="1.5" stroke-linecap="round"/>
<text x="371.10" y="292.40" font-size="11.8" text-anchor="middle" font-family="Liberation Sans, sans-serif" fill="#111">0</text>
<text x="379.40" y="301.10" font-size="11.8" text-anchor="middle" font-family="Liberation Sans, sans-serif" fill="#111">0</text>
<text x="371.10" y="234.00" font-size="11.8" text-anchor="middle" font-family="Liberation Sans, sans-serif" fill="#111">0.5</text>
<text x="439.70" y="301.10" font-size="11.8" text-anchor="middle" font-family="Liberation Sans, sans-serif" fill="#111">0.5</text>
<text x="371.10" y="175.60" font-size="11.8" text-anchor="middle" font-family="Liberation Sans, sans-serif" fill="#111">1</text>
<text x="495.90" y="301.10" font-size="11.8" text-anchor="middle" font-family="Liberation Sans, sans-serif" fill="#111">1</text>
<text x="398.95" y="188.50" font-size="19" font-weight="bold" text-anchor="middle" font-family="Liberation Sans, sans-serif" fill="#000">D</text>
<rect x="528.10" y="168.60" width="118.80" height="118.00" fill="#dcdcdc"/>
<circle cx="645.15" cy="169.80" r="2.0" fill="none" stroke="#000" stroke-width="1.3"/>
<circle cx="645.15" cy="251.33" r="2.0" fill="none" stroke="#000" stroke-width="1.3"/>
<path d="M529.30,168.90 L529.30,286.60 L644.90,286.60" fill="none" stroke="#000" stroke-width="2.2" stroke-linejoin="round" stroke-linecap="round"/>
<line x1="527.50" y1="286.60" x2="529.30" y2="286.60" stroke="#000" stroke-width="1.5" stroke-linecap="round"/>
<line x1="529.30" y1="286.60" x2="529.30" y2="288.40" stroke="#000" stroke-width="1.5" stroke-linecap="round"/>
<line x1="527.50" y1="228.20" x2="529.30" y2="228.20" stroke="#000" stroke-width="1.5" stroke-linecap="round"/>
<line x1="587.40" y1="286.60" x2="587.40" y2="288.40" stroke="#000" stroke-width="1.5" stroke-linecap="round"/>
<line x1="527.50" y1="169.80" x2="529.30" y2="169.80" stroke="#000" stroke-width="1.5" stroke-linecap="round"/>
<line x1="644.90" y1="286.60" x2="644.90" y2="288.40" stroke="#000" stroke-width="1.5" stroke-linecap="round"/>
<text x="516.50" y="292.20" font-size="11.8" text-anchor="middle" font-family="Liberation Sans, sans-serif" fill="#111">0</text>
<text x="524.80" y="300.90" font-size="11.8" text-anchor="middle" font-family="Liberation Sans, sans-serif" fill="#111">0</text>
<text x="516.50" y="233.80" font-size="11.8" text-anchor="middle" font-family="Liberation Sans, sans-serif" fill="#111">0.5</text>
<text x="585.10" y="300.90" font-size="11.8" text-anchor="middle" font-family="Liberation Sans, sans-serif" fill="#111">0.5</text>
<text x="516.50" y="175.40" font-size="11.8" text-anchor="middle" font-family="Liberation Sans, sans-serif" fill="#111">1</text>
<text x="641.30" y="300.90" font-size="11.8" text-anchor="middle" font-family="Liberation Sans, sans-serif" fill="#111">1</text>
<text x="542.20" y="188.50" font-size="19" font-weight="bold" text-anchor="middle" font-family="Liberation Sans, sans-serif" fill="#000">E</text>
<rect x="91.65" y="319.80" width="117.25" height="119.20" fill="#e8aab3"/>
<line x1="192.20" y1="395.55" x2="209.05" y2="322.20" stroke="#4d4d4d" stroke-width="1.3"/>
<circle cx="208.70" cy="322.20" r="2.0" fill="none" stroke="#000" stroke-width="1.3"/>
<circle cx="192.20" cy="395.55" r="2.0" fill="none" stroke="#000" stroke-width="1.3"/>
<path d="M92.85,320.10 L92.85,439.00 L208.45,439.00" fill="none" stroke="#000" stroke-width="2.2" stroke-linejoin="round" stroke-linecap="round"/>
<line x1="91.05" y1="439.00" x2="92.85" y2="439.00" stroke="#000" stroke-width="1.5" stroke-linecap="round"/>
<line x1="92.85" y1="439.00" x2="92.85" y2="440.80" stroke="#000" stroke-width="1.5" stroke-linecap="round"/>
<line x1="91.05" y1="380.60" x2="92.85" y2="380.60" stroke="#000" stroke-width="1.5" stroke-linecap="round"/>
<line x1="150.95" y1="439.00" x2="150.95" y2="440.80" stroke="#000" stroke-width="1.5" stroke-linecap="round"/>
<line x1="91.05" y1="322.20" x2="92.85" y2="322.20" stroke="#000" stroke-width="1.5" stroke-linecap="round"/>
<line x1="208.45" y1="439.00" x2="208.45" y2="440.80" stroke="#000" stroke-width="1.5" stroke-linecap="round"/>
<text x="80.05" y="444.60" font-size="11.8" text-anchor="middle" font-family="Liberation Sans, sans-serif" fill="#111">0</text>
<text x="88.35" y="453.30" font-size="11.8" text-anchor="middle" font-family="Liberation Sans, sans-serif" fill="#111">0</text>
<text x="80.05" y="386.20" font-size="11.8" text-anchor="middle" font-family="Liberation Sans, sans-serif" fill="#111">0.5</text>
<text x="148.65" y="453.30" font-size="11.8" text-anchor="middle" font-family="Liberation Sans, sans-serif" fill="#111">0.5</text>
<text x="80.05" y="327.80" font-size="11.8" text-anchor="middle" font-family="Liberation Sans, sans-serif" fill="#111">1</text>
<text x="204.85" y="453.30" font-size="11.8" text-anchor="middle" font-family="Liberation Sans, sans-serif" fill="#111">1</text>
<text x="102.80" y="342.70" font-size="19" font-weight="bold" text-anchor="middle" font-family="Liberation Sans, sans-serif" fill="#000">F</text>
<text transform="translate(44.50,379.50) rotate(-90)" font-size="11.6" text-anchor="middle" font-family="Liberation Sans, sans-serif" fill="#111">Relative translational</text>
<text transform="translate(59.40,379.50) rotate(-90)" font-size="11.6" text-anchor="middle" font-family="Liberation Sans, sans-serif" fill="#111">efficiency</text>
<rect x="237.20" y="319.90" width="118.60" height="119.10" fill="#b2e7aa"/>
<line x1="331.59" y1="356.43" x2="354.60" y2="397.02" stroke="#4d4d4d" stroke-width="1.3"/>
<circle cx="354.25" cy="410.03" r="2.0" fill="none" stroke="#000" stroke-width="1.3"/>
<circle cx="339.84" cy="322.20" r="2.0" fill="none" stroke="#000" stroke-width="1.3"/>
<circle cx="354.25" cy="401.51" r="2.0" fill="none" stroke="#000" stroke-width="1.3"/>
<circle cx="331.59" cy="387.72" r="2.0" fill="none" stroke="#000" stroke-width="1.3"/>
<path d="M238.40,320.20 L238.40,439.00 L354.00,439.00" fill="none" stroke="#000" stroke-width="2.2" stroke-linejoin="round" stroke-linecap="round"/>
<line x1="236.60" y1="439.00" x2="238.40" y2="439.00" stroke="#000" stroke-width="1.5" stroke-linecap="round"/>
<line x1="238.40" y1="439.00" x2="238.40" y2="440.80" stroke="#000" stroke-width="1.5" stroke-linecap="round"/>
<line x1="236.60" y1="380.60" x2="238.40" y2="380.60" stroke="#000" stroke-width="1.5" stroke-linecap="round"/>
<line x1="296.50" y1="439.00" x2="296.50" y2="440.80" stroke="#000" stroke-width="1.5" stroke-linecap="round"/>
<line x1="236.60" y1="322.20" x2="238.40" y2="322.20" stroke="#000" stroke-width="1.5" stroke-linecap="round"/>
<line x1="354.00" y1="439.00" x2="354.00" y2="440.80" stroke="#000" stroke-width="1.5" stroke-linecap="round"/>
<text x="225.60" y="444.60" font-size="11.8" text-anchor="middle" font-family="Liberation Sans, sans-serif" fill="#111">0</text>
<text x="233.90" y="453.30" font-size="11.8" text-anchor="middle" font-family="Liberation Sans, sans-serif" fill="#111">0</text>
<text x="225.60" y="386.20" font-size="11.8" text-anchor="middle" font-family="Liberation Sans, sans-serif" fill="#111">0.5</text>
<text x="294.20" y="453.30" font-size="11.8" text-anchor="middle" font-family="Liberation Sans, sans-serif" fill="#111">0.5</text>
<text x="225.60" y="327.80" font-size="11.8" text-anchor="middle" font-family="Liberation Sans, sans-serif" fill="#111">1</text>
<text x="350.40" y="453.30" font-size="11.8" text-anchor="middle" font-family="Liberation Sans, sans-serif" fill="#111">1</text>
<text x="254.65" y="342.70" font-size="19" font-weight="bold" text-anchor="middle" font-family="Liberation Sans, sans-serif" fill="#000">G</text>
<rect x="383.50" y="320.00" width="117.30" height="119.00" fill="#e8aab3"/>
<line x1="490.44" y1="395.78" x2="500.90" y2="322.20" stroke="#4d4d4d" stroke-width="1.3"/>
<circle cx="500.55" cy="322.20" r="2.0" fill="none" stroke="#000" stroke-width="1.3"/>
<circle cx="490.44" cy="395.78" r="2.0" fill="none" stroke="#000" stroke-width="1.3"/>
<path d="M384.70,320.30 L384.70,439.00 L500.30,439.00" fill="none" stroke="#000" stroke-width="2.2" stroke-linejoin="round" stroke-linecap="round"/>
<line x1="382.90" y1="439.00" x2="384.70" y2="439.00" stroke="#000" stroke-width="1.5" stroke-linecap="round"/>
<line x1="384.70" y1="439.00" x2="384.70" y2="440.80" stroke="#000" stroke-width="1.5" stroke-linecap="round"/>
<line x1="382.90" y1="380.60" x2="384.70" y2="380.60" stroke="#000" stroke-width="1.5" stroke-linecap="round"/>
<line x1="442.80" y1="439.00" x2="442.80" y2="440.80" stroke="#000" stroke-width="1.5" stroke-linecap="round"/>
<line x1="382.90" y1="322.20" x2="384.70" y2="322.20" stroke="#000" stroke-width="1.5" stroke-linecap="round"/>
<line x1="500.30" y1="439.00" x2="500.30" y2="440.80" stroke="#000" stroke-width="1.5" stroke-linecap="round"/>
<text x="371.90" y="444.60" font-size="11.8" text-anchor="middle" font-family="Liberation Sans, sans-serif" fill="#111">0</text>
<text x="380.20" y="453.30" font-size="11.8" text-anchor="middle" font-family="Liberation Sans, sans-serif" fill="#111">0</text>
<text x="371.90" y="386.20" font-size="11.8" text-anchor="middle" font-family="Liberation Sans, sans-serif" fill="#111">0.5</text>
<text x="440.50" y="453.30" font-size="11.8" text-anchor="middle" font-family="Liberation Sans, sans-serif" fill="#111">0.5</text>
<text x="371.90" y="327.80" font-size="11.8" text-anchor="middle" font-family="Liberation Sans, sans-serif" fill="#111">1</text>
<text x="496.70" y="453.30" font-size="11.8" text-anchor="middle" font-family="Liberation Sans, sans-serif" fill="#111">1</text>
<text x="398.45" y="342.70" font-size="19" font-weight="bold" text-anchor="middle" font-family="Liberation Sans, sans-serif" fill="#000">H</text>
<rect x="528.50" y="319.90" width="118.60" height="119.10" fill="#b2e7aa"/>
<line x1="617.43" y1="359.51" x2="645.90" y2="410.57" stroke="#4d4d4d" stroke-width="1.3"/>
<circle cx="645.55" cy="428.49" r="2.0" fill="none" stroke="#000" stroke-width="1.3"/>
<circle cx="626.84" cy="322.20" r="2.0" fill="none" stroke="#000" stroke-width="1.3"/>
<circle cx="617.43" cy="395.78" r="2.0" fill="none" stroke="#000" stroke-width="1.3"/>
<path d="M529.70,320.20 L529.70,439.00 L645.30,439.00" fill="none" stroke="#000" stroke-width="2.2" stroke-linejoin="round" stroke-linecap="round"/>
<line x1="527.90" y1="439.00" x2="529.70" y2="439.00" stroke="#000" stroke-width="1.5" stroke-linecap="round"/>
<line x1="529.70" y1="439.00" x2="529.70" y2="440.80" stroke="#000" stroke-width="1.5" stroke-linecap="round"/>
<line x1="527.90" y1="380.60" x2="529.70" y2="380.60" stroke="#000" stroke-width="1.5" stroke-linecap="round"/>
<line x1="587.80" y1="439.00" x2="587.80" y2="440.80" stroke="#000" stroke-width="1.5" stroke-linecap="round"/>
<line x1="527.90" y1="322.20" x2="529.70" y2="322.20" stroke="#000" stroke-width="1.5" stroke-linecap="round"/>
<line x1="645.30" y1="439.00" x2="645.30" y2="440.80" stroke="#000" stroke-width="1.5" stroke-linecap="round"/>
<text x="516.90" y="444.60" font-size="11.8" text-anchor="middle" font-family="Liberation Sans, sans-serif" fill="#111">0</text>
<text x="525.20" y="453.30" font-size="11.8" text-anchor="middle" font-family="Liberation Sans, sans-serif" fill="#111">0</text>
<text x="516.90" y="386.20" font-size="11.8" text-anchor="middle" font-family="Liberation Sans, sans-serif" fill="#111">0.5</text>
<text x="585.50" y="453.30" font-size="11.8" text-anchor="middle" font-family="Liberation Sans, sans-serif" fill="#111">0.5</text>
<text x="516.90" y="327.80" font-size="11.8" text-anchor="middle" font-family="Liberation Sans, sans-serif" fill="#111">1</text>
<text x="641.70" y="453.30" font-size="11.8" text-anchor="middle" font-family="Liberation Sans, sans-serif" fill="#111">1</text>
<text x="538.95" y="342.70" font-size="19" font-weight="bold" text-anchor="middle" font-family="Liberation Sans, sans-serif" fill="#000">I</text>
<rect x="92.15" y="473.40" width="116.35" height="119.60" fill="#dcdcdc"/>
<circle cx="209.20" cy="476.20" r="2.0" fill="none" stroke="#000" stroke-width="1.3"/>
<circle cx="209.20" cy="557.61" r="2.0" fill="none" stroke="#000" stroke-width="1.3"/>
<path d="M93.35,473.70 L93.35,593.00 L208.95,593.00" fill="none" stroke="#000" stroke-width="2.2" stroke-linejoin="round" stroke-linecap="round"/>
<line x1="91.55" y1="593.00" x2="93.35" y2="593.00" stroke="#000" stroke-width="1.5" stroke-linecap="round"/>
<line x1="93.35" y1="593.00" x2="93.35" y2="594.80" stroke="#000" stroke-width="1.5" stroke-linecap="round"/>
<line x1="91.55" y1="534.60" x2="93.35" y2="534.60" stroke="#000" stroke-width="1.5" stroke-linecap="round"/>
<line x1="151.45" y1="593.00" x2="151.45" y2="594.80" stroke="#000" stroke-width="1.5" stroke-linecap="round"/>
<line x1="91.55" y1="476.20" x2="93.35" y2="476.20" stroke="#000" stroke-width="1.5" stroke-linecap="round"/>
<line x1="208.95" y1="593.00" x2="208.95" y2="594.80" stroke="#000" stroke-width="1.5" stroke-linecap="round"/>
<text x="80.55" y="598.60" font-size="11.8" text-anchor="middle" font-family="Liberation Sans, sans-serif" fill="#111">0</text>
<text x="88.85" y="607.30" font-size="11.8" text-anchor="middle" font-family="Liberation Sans, sans-serif" fill="#111">0</text>
<text x="80.55" y="540.20" font-size="11.8" text-anchor="middle" font-family="Liberation Sans, sans-serif" fill="#111">0.5</text>
<text x="149.15" y="607.30" font-size="11.8" text-anchor="middle" font-family="Liberation Sans, sans-serif" fill="#111">0.5</text>
<text x="80.55" y="481.80" font-size="11.8" text-anchor="middle" font-family="Liberation Sans, sans-serif" fill="#111">1</text>
<text x="205.35" y="607.30" font-size="11.8" text-anchor="middle" font-family="Liberation Sans, sans-serif" fill="#111">1</text>
<text x="104.00" y="496.30" font-size="19" font-weight="bold" text-anchor="middle" font-family="Liberation Sans, sans-serif" fill="#000">K</text>
<text transform="translate(44.50,533.20) rotate(-90)" font-size="11.6" text-anchor="middle" font-family="Liberation Sans, sans-serif" fill="#111">Relative translational</text>
<text transform="translate(59.40,533.20) rotate(-90)" font-size="11.6" text-anchor="middle" font-family="Liberation Sans, sans-serif" fill="#111">efficiency</text>
<rect x="237.80" y="473.20" width="119.00" height="119.80" fill="#e8aab3"/>
<line x1="320.57" y1="583.10" x2="355.20" y2="530.18" stroke="#4d4d4d" stroke-width="1.3"/>
<circle cx="354.85" cy="565.90" r="2.0" fill="none" stroke="#000" stroke-width="1.3"/>
<circle cx="332.19" cy="564.03" r="2.0" fill="none" stroke="#000" stroke-width="1.3"/>
<circle cx="354.85" cy="476.20" r="2.0" fill="none" stroke="#000" stroke-width="1.3"/>
<circle cx="320.57" cy="574.66" r="2.0" fill="none" stroke="#000" stroke-width="1.3"/>
<circle cx="343.70" cy="565.90" r="2.0" fill="none" stroke="#000" stroke-width="1.3"/>
<circle cx="343.70" cy="557.61" r="2.0" fill="none" stroke="#000" stroke-width="1.3"/>
<path d="M239.00,473.50 L239.00,593.00 L354.60,593.00" fill="none" stroke="#000" stroke-width="2.2" stroke-linejoin="round" stroke-linecap="round"/>
<line x1="237.20" y1="593.00" x2="239.00" y2="593.00" stroke="#000" stroke-width="1.5" stroke-linecap="round"/>
<line x1="239.00" y1="593.00" x2="239.00" y2="594.80" stroke="#000" stroke-width="1.5" stroke-linecap="round"/>
<line x1="237.20" y1="534.60" x2="239.00" y2="534.60" stroke="#000" stroke-width="1.5" stroke-linecap="round"/>
<line x1="297.10" y1="593.00" x2="297.10" y2="594.80" stroke="#000" stroke-width="1.5" stroke-linecap="round"/>
<line x1="237.20" y1="476.20" x2="239.00" y2="476.20" stroke="#000" stroke-width="1.5" stroke-linecap="round"/>
<line x1="354.60" y1="593.00" x2="354.60" y2="594.80" stroke="#000" stroke-width="1.5" stroke-linecap="round"/>
<text x="226.20" y="598.60" font-size="11.8" text-anchor="middle" font-family="Liberation Sans, sans-serif" fill="#111">0</text>
<text x="234.50" y="607.30" font-size="11.8" text-anchor="middle" font-family="Liberation Sans, sans-serif" fill="#111">0</text>
<text x="226.20" y="540.20" font-size="11.8" text-anchor="middle" font-family="Liberation Sans, sans-serif" fill="#111">0.5</text>
<text x="294.80" y="607.30" font-size="11.8" text-anchor="middle" font-family="Liberation Sans, sans-serif" fill="#111">0.5</text>
<text x="226.20" y="481.80" font-size="11.8" text-anchor="middle" font-family="Liberation Sans, sans-serif" fill="#111">1</text>
<text x="351.00" y="607.30" font-size="11.8" text-anchor="middle" font-family="Liberation Sans, sans-serif" fill="#111">1</text>
<text x="253.40" y="496.30" font-size="19" font-weight="bold" text-anchor="middle" font-family="Liberation Sans, sans-serif" fill="#000">L</text>
<rect x="383.80" y="473.40" width="116.70" height="119.60" fill="#e8aab3"/>
<line x1="492.25" y1="549.55" x2="501.20" y2="476.20" stroke="#4d4d4d" stroke-width="1.3"/>
<circle cx="500.85" cy="476.20" r="2.0" fill="none" stroke="#000" stroke-width="1.3"/>
<circle cx="492.25" cy="549.55" r="2.0" fill="none" stroke="#000" stroke-width="1.3"/>
<path d="M385.00,473.70 L385.00,593.00 L500.60,593.00" fill="none" stroke="#000" stroke-width="2.2" stroke-linejoin="round" stroke-linecap="round"/>
<line x1="383.20" y1="593.00" x2="385.00" y2="593.00" stroke="#000" stroke-width="1.5" stroke-linecap="round"/>
<line x1="385.00" y1="593.00" x2="385.00" y2="594.80" stroke="#000" stroke-width="1.5" stroke-linecap="round"/>
<line x1="383.20" y1="534.60" x2="385.00" y2="534.60" stroke="#000" stroke-width="1.5" stroke-linecap="round"/>
<line x1="443.10" y1="593.00" x2="443.10" y2="594.80" stroke="#000" stroke-width="1.5" stroke-linecap="round"/>
<line x1="383.20" y1="476.20" x2="385.00" y2="476.20" stroke="#000" stroke-width="1.5" stroke-linecap="round"/>
<line x1="500.60" y1="593.00" x2="500.60" y2="594.80" stroke="#000" stroke-width="1.5" stroke-linecap="round"/>
<text x="372.20" y="598.60" font-size="11.8" text-anchor="middle" font-family="Liberation Sans, sans-serif" fill="#111">0</text>
<text x="380.50" y="607.30" font-size="11.8" text-anchor="middle" font-family="Liberation Sans, sans-serif" fill="#111">0</text>
<text x="372.20" y="540.20" font-size="11.8" text-anchor="middle" font-family="Liberation Sans, sans-serif" fill="#111">0.5</text>
<text x="440.80" y="607.30" font-size="11.8" text-anchor="middle" font-family="Liberation Sans, sans-serif" fill="#111">0.5</text>
<text x="372.20" y="481.80" font-size="11.8" text-anchor="middle" font-family="Liberation Sans, sans-serif" fill="#111">1</text>
<text x="497.00" y="607.30" font-size="11.8" text-anchor="middle" font-family="Liberation Sans, sans-serif" fill="#111">1</text>
<text x="398.45" y="496.30" font-size="19" font-weight="bold" text-anchor="middle" font-family="Liberation Sans, sans-serif" fill="#000">N</text>
<rect x="529.20" y="473.40" width="119.20" height="119.60" fill="#e8aab3"/>
<line x1="615.11" y1="524.00" x2="646.60" y2="487.51" stroke="#4d4d4d" stroke-width="1.3"/>
<circle cx="646.25" cy="503.18" r="2.0" fill="none" stroke="#000" stroke-width="1.3"/>
<circle cx="625.80" cy="498.74" r="2.0" fill="none" stroke="#000" stroke-width="1.3"/>
<circle cx="646.25" cy="476.20" r="2.0" fill="none" stroke="#000" stroke-width="1.3"/>
<circle cx="615.11" cy="532.50" r="2.0" fill="none" stroke="#000" stroke-width="1.3"/>
<path d="M530.40,473.70 L530.40,593.00 L646.00,593.00" fill="none" stroke="#000" stroke-width="2.2" stroke-linejoin="round" stroke-linecap="round"/>
<line x1="528.60" y1="593.00" x2="530.40" y2="593.00" stroke="#000" stroke-width="1.5" stroke-linecap="round"/>
<line x1="530.40" y1="593.00" x2="530.40" y2="594.80" stroke="#000" stroke-width="1.5" stroke-linecap="round"/>
<line x1="528.60" y1="534.60" x2="530.40" y2="534.60" stroke="#000" stroke-width="1.5" stroke-linecap="round"/>
<line x1="588.50" y1="593.00" x2="588.50" y2="594.80" stroke="#000" stroke-width="1.5" stroke-linecap="round"/>
<line x1="528.60" y1="476.20" x2="530.40" y2="476.20" stroke="#000" stroke-width="1.5" stroke-linecap="round"/>
<line x1="646.00" y1="593.00" x2="646.00" y2="594.80" stroke="#000" stroke-width="1.5" stroke-linecap="round"/>
<text x="517.60" y="598.60" font-size="11.8" text-anchor="middle" font-family="Liberation Sans, sans-serif" fill="#111">0</text>
<text x="525.90" y="607.30" font-size="11.8" text-anchor="middle" font-family="Liberation Sans, sans-serif" fill="#111">0</text>
<text x="517.60" y="540.20" font-size="11.8" text-anchor="middle" font-family="Liberation Sans, sans-serif" fill="#111">0.5</text>
<text x="586.20" y="607.30" font-size="11.8" text-anchor="middle" font-family="Liberation Sans, sans-serif" fill="#111">0.5</text>
<text x="517.60" y="481.80" font-size="11.8" text-anchor="middle" font-family="Liberation Sans, sans-serif" fill="#111">1</text>
<text x="642.40" y="607.30" font-size="11.8" text-anchor="middle" font-family="Liberation Sans, sans-serif" fill="#111">1</text>
<text x="543.30" y="496.30" font-size="19" font-weight="bold" text-anchor="middle" font-family="Liberation Sans, sans-serif" fill="#000">P</text>
<rect x="92.15" y="628.00" width="116.35" height="119.00" fill="#dcdcdc"/>
<circle cx="209.20" cy="657.65" r="2.0" fill="none" stroke="#000" stroke-width="1.3"/>
<circle cx="209.20" cy="630.20" r="2.0" fill="none" stroke="#000" stroke-width="1.3"/>
<path d="M93.35,628.30 L93.35,747.00 L208.95,747.00" fill="none" stroke="#000" stroke-width="2.2" stroke-linejoin="round" stroke-linecap="round"/>
<line x1="91.55" y1="747.00" x2="93.35" y2="747.00" stroke="#000" stroke-width="1.5" stroke-linecap="round"/>
<line x1="93.35" y1="747.00" x2="93.35" y2="748.80" stroke="#000" stroke-width="1.5" stroke-linecap="round"/>
<line x1="91.55" y1="688.60" x2="93.35" y2="688.60" stroke="#000" stroke-width="1.5" stroke-linecap="round"/>
<line x1="151.45" y1="747.00" x2="151.45" y2="748.80" stroke="#000" stroke-width="1.5" stroke-linecap="round"/>
<line x1="91.55" y1="630.20" x2="93.35" y2="630.20" stroke="#000" stroke-width="1.5" stroke-linecap="round"/>
<line x1="208.95" y1="747.00" x2="208.95" y2="748.80" stroke="#000" stroke-width="1.5" stroke-linecap="round"/>
<text x="80.55" y="752.60" font-size="11.8" text-anchor="middle" font-family="Liberation Sans, sans-serif" fill="#111">0</text>
<text x="88.85" y="761.30" font-size="11.8" text-anchor="middle" font-family="Liberation Sans, sans-serif" fill="#111">0</text>
<text x="80.55" y="694.20" font-size="11.8" text-anchor="middle" font-family="Liberation Sans, sans-serif" fill="#111">0.5</text>
<text x="149.15" y="761.30" font-size="11.8" text-anchor="middle" font-family="Liberation Sans, sans-serif" fill="#111">0.5</text>
<text x="80.55" y="635.80" font-size="11.8" text-anchor="middle" font-family="Liberation Sans, sans-serif" fill="#111">1</text>
<text x="205.35" y="761.30" font-size="11.8" text-anchor="middle" font-family="Liberation Sans, sans-serif" fill="#111">1</text>
<text x="104.00" y="653.10" font-size="19" font-weight="bold" text-anchor="middle" font-family="Liberation Sans, sans-serif" fill="#000">Q</text>
<text transform="translate(44.50,689.20) rotate(-90)" font-size="11.6" text-anchor="middle" font-family="Liberation Sans, sans-serif" fill="#111">Relative translational</text>
<text transform="translate(59.40,689.20) rotate(-90)" font-size="11.6" text-anchor="middle" font-family="Liberation Sans, sans-serif" fill="#111">efficiency</text>
<text x="150.00" y="779.80" font-size="11.7" text-anchor="middle" font-family="Liberation Sans, sans-serif" fill="#111">Relative biosynthetic</text>
<text x="150.00" y="794.30" font-size="11.7" text-anchor="middle" font-family="Liberation Sans, sans-serif" fill="#111">cost</text>
<rect x="237.80" y="628.00" width="120.20" height="119.00" fill="#b2e7aa"/>
<line x1="316.74" y1="656.68" x2="355.20" y2="729.44" stroke="#4d4d4d" stroke-width="1.3"/>
<circle cx="354.85" cy="718.03" r="2.0" fill="none" stroke="#000" stroke-width="1.3"/>
<circle cx="354.85" cy="709.16" r="2.0" fill="none" stroke="#000" stroke-width="1.3"/>
<circle cx="339.98" cy="732.87" r="2.0" fill="none" stroke="#000" stroke-width="1.3"/>
<circle cx="324.41" cy="679.72" r="2.0" fill="none" stroke="#000" stroke-width="1.3"/>
<circle cx="339.98" cy="718.03" r="2.0" fill="none" stroke="#000" stroke-width="1.3"/>
<circle cx="316.74" cy="630.20" r="2.0" fill="none" stroke="#000" stroke-width="1.3"/>
<path d="M239.00,628.30 L239.00,747.00 L354.60,747.00" fill="none" stroke="#000" stroke-width="2.2" stroke-linejoin="round" stroke-linecap="round"/>
<line x1="237.20" y1="747.00" x2="239.00" y2="747.00" stroke="#000" stroke-width="1.5" stroke-linecap="round"/>
<line x1="239.00" y1="747.00" x2="239.00" y2="748.80" stroke="#000" stroke-width="1.5" stroke-linecap="round"/>
<line x1="237.20" y1="688.60" x2="239.00" y2="688.60" stroke="#000" stroke-width="1.5" stroke-linecap="round"/>
<line x1="297.10" y1="747.00" x2="297.10" y2="748.80" stroke="#000" stroke-width="1.5" stroke-linecap="round"/>
<line x1="237.20" y1="630.20" x2="239.00" y2="630.20" stroke="#000" stroke-width="1.5" stroke-linecap="round"/>
<line x1="354.60" y1="747.00" x2="354.60" y2="748.80" stroke="#000" stroke-width="1.5" stroke-linecap="round"/>
<text x="226.20" y="752.60" font-size="11.8" text-anchor="middle" font-family="Liberation Sans, sans-serif" fill="#111">0</text>
<text x="234.50" y="761.30" font-size="11.8" text-anchor="middle" font-family="Liberation Sans, sans-serif" fill="#111">0</text>
<text x="226.20" y="694.20" font-size="11.8" text-anchor="middle" font-family="Liberation Sans, sans-serif" fill="#111">0.5</text>
<text x="294.80" y="761.30" font-size="11.8" text-anchor="middle" font-family="Liberation Sans, sans-serif" fill="#111">0.5</text>
<text x="226.20" y="635.80" font-size="11.8" text-anchor="middle" font-family="Liberation Sans, sans-serif" fill="#111">1</text>
<text x="351.00" y="761.30" font-size="11.8" text-anchor="middle" font-family="Liberation Sans, sans-serif" fill="#111">1</text>
<text x="254.10" y="653.10" font-size="19" font-weight="bold" text-anchor="middle" font-family="Liberation Sans, sans-serif" fill="#000">R</text>
<rect x="383.80" y="628.00" width="118.00" height="119.00" fill="#b2e7aa"/>
<line x1="447.75" y1="659.89" x2="501.20" y2="705.43" stroke="#4d4d4d" stroke-width="1.3"/>
<circle cx="500.85" cy="689.88" r="2.0" fill="none" stroke="#000" stroke-width="1.3"/>
<circle cx="492.37" cy="725.74" r="2.0" fill="none" stroke="#000" stroke-width="1.3"/>
<circle cx="474.71" cy="689.88" r="2.0" fill="none" stroke="#000" stroke-width="1.3"/>
<circle cx="456.70" cy="630.20" r="2.0" fill="none" stroke="#000" stroke-width="1.3"/>
<circle cx="474.71" cy="672.95" r="2.0" fill="none" stroke="#000" stroke-width="1.3"/>
<circle cx="447.75" cy="687.78" r="2.0" fill="none" stroke="#000" stroke-width="1.3"/>
<path d="M385.00,628.30 L385.00,747.00 L500.60,747.00" fill="none" stroke="#000" stroke-width="2.2" stroke-linejoin="round" stroke-linecap="round"/>
<line x1="383.20" y1="747.00" x2="385.00" y2="747.00" stroke="#000" stroke-width="1.5" stroke-linecap="round"/>
<line x1="385.00" y1="747.00" x2="385.00" y2="748.80" stroke="#000" stroke-width="1.5" stroke-linecap="round"/>
<line x1="383.20" y1="688.60" x2="385.00" y2="688.60" stroke="#000" stroke-width="1.5" stroke-linecap="round"/>
<line x1="443.10" y1="747.00" x2="443.10" y2="748.80" stroke="#000" stroke-width="1.5" stroke-linecap="round"/>
<line x1="383.20" y1="630.20" x2="385.00" y2="630.20" stroke="#000" stroke-width="1.5" stroke-linecap="round"/>
<line x1="500.60" y1="747.00" x2="500.60" y2="748.80" stroke="#000" stroke-width="1.5" stroke-linecap="round"/>
<text x="372.20" y="752.60" font-size="11.8" text-anchor="middle" font-family="Liberation Sans, sans-serif" fill="#111">0</text>
<text x="380.50" y="761.30" font-size="11.8" text-anchor="middle" font-family="Liberation Sans, sans-serif" fill="#111">0</text>
<text x="372.20" y="694.20" font-size="11.8" text-anchor="middle" font-family="Liberation Sans, sans-serif" fill="#111">0.5</text>
<text x="440.80" y="761.30" font-size="11.8" text-anchor="middle" font-family="Liberation Sans, sans-serif" fill="#111">0.5</text>
<text x="372.20" y="635.80" font-size="11.8" text-anchor="middle" font-family="Liberation Sans, sans-serif" fill="#111">1</text>
<text x="497.00" y="761.30" font-size="11.8" text-anchor="middle" font-family="Liberation Sans, sans-serif" fill="#111">1</text>
<text x="397.80" y="653.10" font-size="19" font-weight="bold" text-anchor="middle" font-family="Liberation Sans, sans-serif" fill="#000">S</text>
<rect x="529.20" y="627.90" width="118.80" height="119.40" fill="#e8aab3"/>
<line x1="619.87" y1="676.29" x2="646.60" y2="659.09" stroke="#4d4d4d" stroke-width="1.3"/>
<circle cx="646.25" cy="696.73" r="2.0" fill="none" stroke="#000" stroke-width="1.3"/>
<circle cx="628.71" cy="643.23" r="2.0" fill="none" stroke="#000" stroke-width="1.3"/>
<circle cx="646.25" cy="630.50" r="2.0" fill="none" stroke="#000" stroke-width="1.3"/>
<circle cx="619.87" cy="694.62" r="2.0" fill="none" stroke="#000" stroke-width="1.3"/>
<path d="M530.40,628.20 L530.40,747.30 L646.00,747.30" fill="none" stroke="#000" stroke-width="2.2" stroke-linejoin="round" stroke-linecap="round"/>
<line x1="528.60" y1="747.30" x2="530.40" y2="747.30" stroke="#000" stroke-width="1.5" stroke-linecap="round"/>
<line x1="530.40" y1="747.30" x2="530.40" y2="749.10" stroke="#000" stroke-width="1.5" stroke-linecap="round"/>
<line x1="528.60" y1="688.90" x2="530.40" y2="688.90" stroke="#000" stroke-width="1.5" stroke-linecap="round"/>
<line x1="588.50" y1="747.30" x2="588.50" y2="749.10" stroke="#000" stroke-width="1.5" stroke-linecap="round"/>
<line x1="528.60" y1="630.50" x2="530.40" y2="630.50" stroke="#000" stroke-width="1.5" stroke-linecap="round"/>
<line x1="646.00" y1="747.30" x2="646.00" y2="749.10" stroke="#000" stroke-width="1.5" stroke-linecap="round"/>
<text x="517.60" y="752.90" font-size="11.8" text-anchor="middle" font-family="Liberation Sans, sans-serif" fill="#111">0</text>
<text x="525.90" y="761.60" font-size="11.8" text-anchor="middle" font-family="Liberation Sans, sans-serif" fill="#111">0</text>
<text x="517.60" y="694.50" font-size="11.8" text-anchor="middle" font-family="Liberation Sans, sans-serif" fill="#111">0.5</text>
<text x="586.20" y="761.60" font-size="11.8" text-anchor="middle" font-family="Liberation Sans, sans-serif" fill="#111">0.5</text>
<text x="517.60" y="636.10" font-size="11.8" text-anchor="middle" font-family="Liberation Sans, sans-serif" fill="#111">1</text>
<text x="642.40" y="761.60" font-size="11.8" text-anchor="middle" font-family="Liberation Sans, sans-serif" fill="#111">1</text>
<text x="542.35" y="653.10" font-size="19" font-weight="bold" text-anchor="middle" font-family="Liberation Sans, sans-serif" fill="#000">T</text>
<text x="587.30" y="779.90" font-size="11.7" text-anchor="middle" font-family="Liberation Sans, sans-serif" fill="#111">Relative biosynthetic</text>
<text x="587.30" y="794.40" font-size="11.7" text-anchor="middle" font-family="Liberation Sans, sans-serif" fill="#111">cost</text>
<rect x="238.00" y="783.10" width="118.20" height="118.10" fill="#e8aab3"/>
<line x1="326.47" y1="852.42" x2="355.40" y2="826.07" stroke="#4d4d4d" stroke-width="1.3"/>
<circle cx="355.05" cy="784.40" r="2.0" fill="none" stroke="#000" stroke-width="1.3"/>
<circle cx="336.23" cy="848.87" r="2.0" fill="none" stroke="#000" stroke-width="1.3"/>
<circle cx="355.05" cy="865.93" r="2.0" fill="none" stroke="#000" stroke-width="1.3"/>
<circle cx="326.47" cy="848.87" r="2.0" fill="none" stroke="#000" stroke-width="1.3"/>
<path d="M239.20,783.40 L239.20,901.20 L354.80,901.20" fill="none" stroke="#000" stroke-width="2.2" stroke-linejoin="round" stroke-linecap="round"/>
<line x1="237.40" y1="901.20" x2="239.20" y2="901.20" stroke="#000" stroke-width="1.5" stroke-linecap="round"/>
<line x1="239.20" y1="901.20" x2="239.20" y2="903.00" stroke="#000" stroke-width="1.5" stroke-linecap="round"/>
<line x1="237.40" y1="842.80" x2="239.20" y2="842.80" stroke="#000" stroke-width="1.5" stroke-linecap="round"/>
<line x1="297.30" y1="901.20" x2="297.30" y2="903.00" stroke="#000" stroke-width="1.5" stroke-linecap="round"/>
<line x1="237.40" y1="784.40" x2="239.20" y2="784.40" stroke="#000" stroke-width="1.5" stroke-linecap="round"/>
<line x1="354.80" y1="901.20" x2="354.80" y2="903.00" stroke="#000" stroke-width="1.5" stroke-linecap="round"/>
<text x="226.40" y="906.80" font-size="11.8" text-anchor="middle" font-family="Liberation Sans, sans-serif" fill="#111">0</text>
<text x="234.70" y="915.50" font-size="11.8" text-anchor="middle" font-family="Liberation Sans, sans-serif" fill="#111">0</text>
<text x="226.40" y="848.40" font-size="11.8" text-anchor="middle" font-family="Liberation Sans, sans-serif" fill="#111">0.5</text>
<text x="295.00" y="915.50" font-size="11.8" text-anchor="middle" font-family="Liberation Sans, sans-serif" fill="#111">0.5</text>
<text x="226.40" y="790.00" font-size="11.8" text-anchor="middle" font-family="Liberation Sans, sans-serif" fill="#111">1</text>
<text x="351.20" y="915.50" font-size="11.8" text-anchor="middle" font-family="Liberation Sans, sans-serif" fill="#111">1</text>
<text x="253.80" y="803.20" font-size="19" font-weight="bold" text-anchor="middle" font-family="Liberation Sans, sans-serif" fill="#000">V</text>
<text transform="translate(188.00,850.20) rotate(-90)" font-size="11.6" text-anchor="middle" font-family="Liberation Sans, sans-serif" fill="#111">Relative translational</text>
<text transform="translate(203.40,850.20) rotate(-90)" font-size="11.6" text-anchor="middle" font-family="Liberation Sans, sans-serif" fill="#111">efficiency</text>
<text x="297.30" y="934.70" font-size="11.7" text-anchor="middle" font-family="Liberation Sans, sans-serif" fill="#111">Relative biosynthetic</text>
<text x="297.30" y="949.20" font-size="11.7" text-anchor="middle" font-family="Liberation Sans, sans-serif" fill="#111">cost</text>
<rect x="384.30" y="783.20" width="118.80" height="119.80" fill="#e8aab3"/>
<line x1="489.73" y1="860.25" x2="501.70" y2="786.20" stroke="#4d4d4d" stroke-width="1.3"/>
<circle cx="501.35" cy="786.20" r="2.0" fill="none" stroke="#000" stroke-width="1.3"/>
<circle cx="489.73" cy="860.25" r="2.0" fill="none" stroke="#000" stroke-width="1.3"/>
<path d="M385.50,783.50 L385.50,903.00 L501.10,903.00" fill="none" stroke="#000" stroke-width="2.2" stroke-linejoin="round" stroke-linecap="round"/>
<line x1="383.70" y1="903.00" x2="385.50" y2="903.00" stroke="#000" stroke-width="1.5" stroke-linecap="round"/>
<line x1="385.50" y1="903.00" x2="385.50" y2="904.80" stroke="#000" stroke-width="1.5" stroke-linecap="round"/>
<line x1="383.70" y1="844.60" x2="385.50" y2="844.60" stroke="#000" stroke-width="1.5" stroke-linecap="round"/>
<line x1="443.60" y1="903.00" x2="443.60" y2="904.80" stroke="#000" stroke-width="1.5" stroke-linecap="round"/>
<line x1="383.70" y1="786.20" x2="385.50" y2="786.20" stroke="#000" stroke-width="1.5" stroke-linecap="round"/>
<line x1="501.10" y1="903.00" x2="501.10" y2="904.80" stroke="#000" stroke-width="1.5" stroke-linecap="round"/>
<text x="372.70" y="908.60" font-size="11.8" text-anchor="middle" font-family="Liberation Sans, sans-serif" fill="#111">0</text>
<text x="381.00" y="917.30" font-size="11.8" text-anchor="middle" font-family="Liberation Sans, sans-serif" fill="#111">0</text>
<text x="372.70" y="850.20" font-size="11.8" text-anchor="middle" font-family="Liberation Sans, sans-serif" fill="#111">0.5</text>
<text x="441.30" y="917.30" font-size="11.8" text-anchor="middle" font-family="Liberation Sans, sans-serif" fill="#111">0.5</text>
<text x="372.70" y="791.80" font-size="11.8" text-anchor="middle" font-family="Liberation Sans, sans-serif" fill="#111">1</text>
<text x="497.50" y="917.30" font-size="11.8" text-anchor="middle" font-family="Liberation Sans, sans-serif" fill="#111">1</text>
<text x="398.05" y="803.20" font-size="19" font-weight="bold" text-anchor="middle" font-family="Liberation Sans, sans-serif" fill="#000">Y</text>
<text x="440.60" y="934.70" font-size="11.7" text-anchor="middle" font-family="Liberation Sans, sans-serif" fill="#111">Relative biosynthetic</text>
<text x="440.60" y="949.20" font-size="11.7" text-anchor="middle" font-family="Liberation Sans, sans-serif" fill="#111">cost</text>
</svg>
</body></html>
